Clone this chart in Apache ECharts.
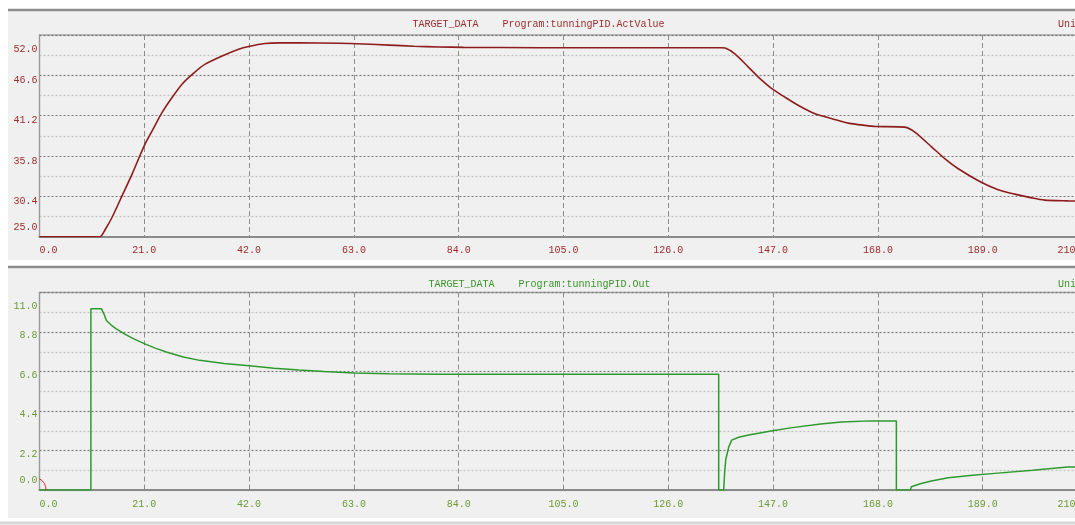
<!DOCTYPE html>
<html>
<head>
<meta charset="utf-8">
<script src="https://cdn.jsdelivr.net/npm/echarts@6/dist/echarts.min.js"></script>
<style>
html,body{margin:0;padding:0;background:#ffffff;}
#c{width:1075px;height:525px;}
</style>
</head>
<body>
<div id="c"></div>
<script>
// ---- data ----
var actTime  = [0, 12.1, 13.2, 14.6, 16.6, 18.6, 21, 22.6, 24.6, 26.6, 28.6, 30.9, 33.2, 36.6, 39.9, 41.9, 45.2, 48, 52, 60, 65, 70, 75, 80, 85, 100, 120, 136.5, 137.4, 139.4, 142.1, 144.1, 146.6, 149.4, 152.1, 155.4, 158.8, 162.1, 165.4, 167.6, 173.4, 175.4, 178.8, 181.4, 184.1, 188.6, 192.1, 195.4, 198.8, 201.4, 206.1, 210];
var actValue = [25.0, 25.0, 26.0, 27.67, 30.56, 33.45, 37.2, 39.2, 41.67, 43.67, 45.45, 46.9, 48.1, 49.2, 50.1, 50.47, 50.87, 50.95, 50.95, 50.9, 50.8, 50.65, 50.5, 50.4, 50.35, 50.3, 50.3, 50.3, 50.25, 49.45, 47.67, 46.33, 44.9, 43.67, 42.56, 41.45, 40.8, 40.2, 39.9, 39.76, 39.67, 39.0, 37.0, 35.45, 34.1, 32.33, 31.3, 30.7, 30.2, 29.9, 29.8, 29.75];

var outTime  = [0, 10.3, 10.3, 12.4, 13.0, 13.4, 14.3, 15.4, 17.0, 18.8, 21, 23.2, 25.4, 28.8, 32.1, 37, 42, 47, 52, 57, 63, 70, 80, 136.1, 136.1, 137.1, 137.3, 137.5, 138.1, 138.7, 140.1, 142.1, 146.6, 150.5, 156.5, 160.7, 166.5, 171.7, 171.7, 174.5, 174.7, 176.5, 178.7, 182.1, 187, 192, 199, 206, 210];
var outValue = [0, 0, 10.1, 10.1, 9.75, 9.44, 9.2, 8.98, 8.7, 8.43, 8.15, 7.9, 7.69, 7.41, 7.22, 7.05, 6.92, 6.78, 6.68, 6.6, 6.52, 6.48, 6.45, 6.44, 0, 0, 1.0, 1.67, 2.39, 2.78, 2.94, 3.06, 3.29, 3.46, 3.67, 3.79, 3.85, 3.85, 0, 0, 0.18, 0.35, 0.5, 0.68, 0.82, 0.94, 1.1, 1.28, 1.3];

var xTicks = {min: 0, max: 210, interval: 21};
var actTicks = {min: 25.0, max: 52.0, interval: 5.4};
var outTicks = {min: 0.0, max: 11.0, interval: 2.2};

var topTitle = 'TARGET_DATA    Program:tunningPID.ActValue';
var botTitle = 'TARGET_DATA    Program:tunningPID.Out';
var unitText = 'Unit';

// ---- styling ----
var FONT = 'Liberation Mono, DejaVu Sans Mono, monospace';
var FS = 10;
var RED = '#9c2b2b';
var GREEN_T = '#3a962a';
var GREEN_L = '#6c9a35';

function pairs(xs, ys){ var r=[]; for (var i=0;i<xs.length;i++) r.push([xs[i], ys[i]]); return r; }

function xAxisCfg(gi, color){
  return {
    type:'value', gridIndex:gi, min:xTicks.min, max:xTicks.max, interval:xTicks.interval,
    axisLine:{show:true, onZero:false, lineStyle:{color:'#8a8a8a', width:2}},
    axisTick:{show:false},
    splitLine:{show:true, lineStyle:{color:'#8c8c8c', width:1, type:[5,3]}},
    axisLabel:{
      margin:9, color:color, fontFamily:FONT, fontSize:FS, hideOverlap:false,
      formatter:function(v){
        var s = v.toFixed(1);
        if (Math.abs(v - xTicks.min) < 1e-6) return '{l|' + s + '}';
        if (Math.abs(v - xTicks.max) < 1e-6) return '{r|' + s + '}';
        return '{n|' + s + '}';
      },
      rich:{
        n:{color:color, fontFamily:FONT, fontSize:FS},
        l:{color:color, fontFamily:FONT, fontSize:FS, padding:[0,0,0,18]},
        r:{color:color, fontFamily:FONT, fontSize:FS, padding:[0,30,0,0]}
      }
    }
  };
}

function yAxisCfg(gi, ticks, color, pn, pt, pb){
  return {
    type:'value', gridIndex:gi, min:ticks.min, max:ticks.max, interval:ticks.interval,
    axisLine:{show:true, lineStyle:{color:'#9a9a9a', width:1}},
    axisTick:{show:false},
    minorTick:{show:false, splitNumber:2},
    splitLine:{show:true, lineStyle:{color:'#787878', width:1.2, type:[2,2]}},
    minorSplitLine:{show:true, lineStyle:{color:'#c2c2c2', width:1.2, type:[2,2]}},
    axisLabel:{
      margin:2, color:color, fontFamily:FONT, fontSize:FS,
      formatter:function(v){
        var s = v.toFixed(1);
        if (Math.abs(v - ticks.max) < 1e-6) return '{t|' + s + '}';
        if (Math.abs(v - ticks.min) < 1e-6) return '{b|' + s + '}';
        return '{n|' + s + '}';
      },
      rich:{
        n:{color:color, fontFamily:FONT, fontSize:FS, padding:[pn,0,0,0]},
        t:{color:color, fontFamily:FONT, fontSize:FS, padding:[pt,0,0,0]},
        b:{color:color, fontFamily:FONT, fontSize:FS, padding:[0,0,pb,0]}
      }
    }
  };
}

var gridBase = {show:true, backgroundColor:'#f0f0f0', borderColor:'#a8a8a8', borderWidth:1.5, containLabel:false, outerBoundsMode:'none'};
var g0 = Object.assign({left:39.5, top:35, width:1048, height:201.7}, gridBase);
var g1 = Object.assign({left:39.5, top:292.5, width:1048, height:197.5}, gridBase);

var chart = echarts.init(document.getElementById('c'), null, {renderer:'canvas'});
chart.setOption({
  animation:false,
  backgroundColor:'#ffffff',
  grid:[g0, g1],
  xAxis:[xAxisCfg(0, RED), xAxisCfg(1, GREEN_L)],
  yAxis:[yAxisCfg(0, actTicks, RED, 10, 29, 19), yAxisCfg(1, outTicks, GREEN_L, 7, 27, 20)],
  series:[
    {type:'line', xAxisIndex:0, yAxisIndex:0, data:pairs(actTime, actValue), showSymbol:false, symbol:'none',
     smooth:0.25,
     lineStyle:{color:'#8e1c1c', width:1.6}, z:5},
    {type:'line', xAxisIndex:1, yAxisIndex:1, data:pairs(outTime, outValue), showSymbol:false, symbol:'none',
     lineStyle:{color:'#2e9a2e', width:1.5}, z:5}
  ],
  graphic:[
    {type:'rect', z:-10, silent:true, shape:{x:8, y:9, width:1067, height:251}, style:{fill:'#f0f0f0'}},
    {type:'rect', z:-10, silent:true, shape:{x:8, y:266, width:1067, height:252}, style:{fill:'#f0f0f0'}},
    {type:'line', z:-9, silent:true, shape:{x1:8, y1:10, x2:1075, y2:10}, style:{stroke:'#8c8c8c', lineWidth:2.5}},
    {type:'line', z:-9, silent:true, shape:{x1:8, y1:267, x2:1075, y2:267}, style:{stroke:'#8c8c8c', lineWidth:2.5}},
    {type:'line', z:-9, silent:true, shape:{x1:0, y1:523, x2:1075, y2:523}, style:{stroke:'#d6d6d6', lineWidth:3}},
    {type:'text', z:50, silent:true, x:538.5, y:24.7, style:{text:topTitle, fill:RED, font:FS+'px '+FONT, textAlign:'center', textVerticalAlign:'middle'}},
    {type:'text', z:50, silent:true, x:539.5, y:284, style:{text:botTitle, fill:GREEN_T, font:FS+'px '+FONT, textAlign:'center', textVerticalAlign:'middle'}},
    {type:'text', z:50, silent:true, x:1058, y:24.7, style:{text:unitText, fill:RED, font:FS+'px '+FONT, textAlign:'left', textVerticalAlign:'middle'}},
    {type:'text', z:50, silent:true, x:1058, y:284, style:{text:unitText, fill:GREEN_T, font:FS+'px '+FONT, textAlign:'left', textVerticalAlign:'middle'}},
    {type:'arc', z:60, silent:true, shape:{cx:33, cy:490, r:13, startAngle:-Math.PI/3, endAngle:0, clockwise:true}, style:{stroke:'#e02020', fill:null, lineWidth:1}}
  ]
});
</script>
</body>
</html>
